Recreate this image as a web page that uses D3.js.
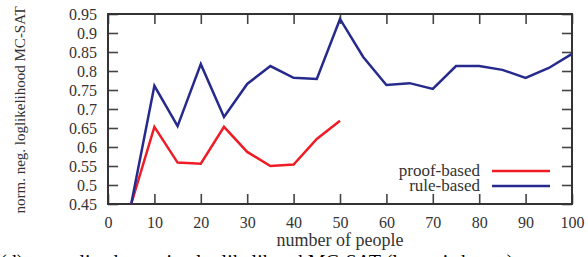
<!doctype html>
<meta charset="utf-8">
<style>
  body { margin: 0; background: #fff; }
</style>
<body>
<div id="chart"></div>
<script src="https://d3js.org/d3.v7.min.js"></script>
<script>
const people = [5, 10, 15, 20, 25, 30, 35, 40, 45, 50, 55, 60, 65, 70, 75, 80, 85, 90, 95, 100]
const ruleBased = [0.45, 0.761, 0.655, 0.818, 0.679, 0.766, 0.813, 0.782, 0.779, 0.937,
  0.837, 0.763, 0.768, 0.753, 0.813, 0.813, 0.803, 0.782, 0.808, 0.845]
const proofBased = [0.45, 0.653, 0.559, 0.556, 0.653, 0.587, 0.55, 0.554, 0.621, 0.669]
const xTicks = [0, 10, 20, 30, 40, 50, 60, 70, 80, 90, 100]
const yTicks = [0.45, 0.5, 0.55, 0.6, 0.65, 0.7, 0.75, 0.8, 0.85, 0.9, 0.95]
const series = [
  { name: "proof-based", values: proofBased, color: "#ee1c25" },
  { name: "rule-based", values: ruleBased, color: "#252a8c" }
]

const FONT = "'Liberation Serif', 'Times New Roman', 'DejaVu Serif', serif"

const margin = { top: 14, right: 16, bottom: 53, left: 108 }
const W = 588, H = 257
const width = W - margin.left - margin.right
const height = H - margin.top - margin.bottom

const svg = d3.select("#chart").append("svg")
  .attr("width", W)
  .attr("height", H)
  .attr("font-family", FONT)

const g = svg.append("g")
  .attr("transform", "translate(" + margin.left + "," + margin.top + ")")

const x = d3.scaleLinear().domain([0, 100]).range([0, width])
const y = d3.scaleLinear().domain([0.45, 0.95]).range([height, 0])

const fmt = d => String(d)

// axes, ticks pointing inward
const axes = [
  g.append("g").attr("transform", "translate(0," + height + ")")
    .call(d3.axisBottom(x).tickValues(xTicks).tickSizeInner(-10).tickSizeOuter(0).tickPadding(13).tickFormat(fmt)),
  g.append("g")
    .call(d3.axisTop(x).tickValues(xTicks).tickSizeInner(-10).tickSizeOuter(0).tickFormat("")),
  g.append("g")
    .call(d3.axisLeft(y).tickValues(yTicks).tickSizeInner(-10).tickSizeOuter(0).tickPadding(11).tickFormat(fmt)),
  g.append("g").attr("transform", "translate(" + width + ",0)")
    .call(d3.axisRight(y).tickValues(yTicks).tickSizeInner(-10).tickSizeOuter(0).tickFormat(""))
]
axes.forEach(a => {
  a.attr("font-family", FONT).attr("font-size", 16)
  a.select(".domain").remove()
  a.selectAll(".tick line").attr("stroke", "#444").attr("stroke-width", 1.6)
  a.selectAll(".tick text").attr("fill", "#333")
})

g.append("rect")
  .attr("width", width)
  .attr("height", height)
  .attr("fill", "none")
  .attr("stroke", "#333")
  .attr("stroke-width", 2)

const line = d3.line()
  .x((d, i) => x(people[i]))
  .y(d => y(d))

series.forEach(s => {
  g.append("path")
    .datum(s.values)
    .attr("fill", "none")
    .attr("stroke", s.color)
    .attr("stroke-width", 2.5)
    .attr("d", line)
})

// legend
const legend = g.append("g")
series.forEach((s, i) => {
  const ly = 157 + i * 15
  legend.append("text")
    .attr("x", 372)
    .attr("y", ly + 5)
    .attr("text-anchor", "end")
    .attr("font-size", 17)
    .attr("fill", "#333")
    .text(s.name)
  legend.append("line")
    .attr("x1", 384).attr("x2", 442)
    .attr("y1", ly).attr("y2", ly)
    .attr("stroke", s.color)
    .attr("stroke-width", 2.5)
})

svg.append("text")
  .attr("x", margin.left + width / 2)
  .attr("y", 246)
  .attr("text-anchor", "middle")
  .attr("font-size", 18)
  .attr("fill", "#333")
  .text("number of people")

svg.append("text")
  .attr("transform", "translate(25," + (margin.top + height / 2 + 1) + ") rotate(-90)")
  .attr("text-anchor", "middle")
  .attr("font-size", 15)
  .attr("fill", "#333")
  .text("norm. neg. loglikelihood MC-SAT")

svg.append("text")
  .attr("x", 0)
  .attr("y", 269)
  .attr("font-size", 20)
  .attr("fill", "#000")
  .text("(d) normalized negative loglikelihood MC-SAT (lower is better)")
</script>
</body>
